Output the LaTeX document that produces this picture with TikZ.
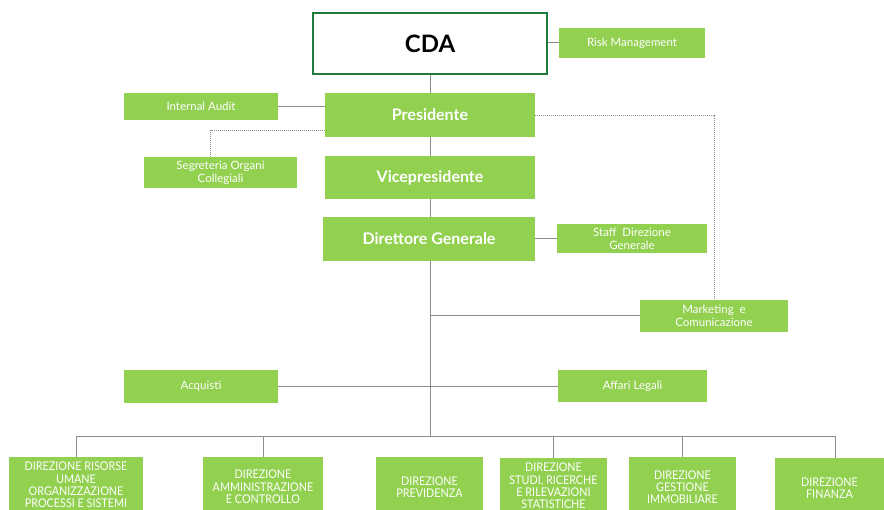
\documentclass[tikz,border=0pt]{standalone}
\usepackage{fontspec}
\setmainfont{Lato}
\newfontfamily\condfont{Lato}[FakeStretch=0.9]
\definecolor{gbox}{HTML}{92D050}
\definecolor{lgray}{HTML}{8C8C8C}
\definecolor{dgreen}{HTML}{1F7A3C}
\begin{document}
\begin{tikzpicture}[x=1pt,y=-1pt,
  box/.style={fill=gbox, text=white, inner sep=0pt, align=center, font=\fontsize{11.5}{13}\selectfont},
  mainbox/.style={box, font=\fontsize{16}{18}\selectfont\bfseries},
  dirbox/.style={box, minimum height=60pt, font=\condfont\fontsize{12}{12.3}\selectfont},
  conn/.style={draw=lgray, line width=1pt},
  dotline/.style={draw=lgray, line width=0.7pt, dash pattern=on 1pt off 1pt}]
\useasboundingbox (0,0) rectangle (884,510);
\clip (0,0) rectangle (884,510);
\fill[white] (0,0) rectangle (884,510);

\node[draw=dgreen, line width=2pt, fill=white, minimum width=234pt, minimum height=61pt,
  font=\fontsize{24}{26}\selectfont\bfseries] (cda) at (430,43.5) {CDA};
\node[box, minimum width=146pt, minimum height=30pt] (risk) at (632,43) {Risk Management};
\node[mainbox, minimum width=210pt, minimum height=44pt] (pres) at (430,115) {Presidente};
\node[box, minimum width=154pt, minimum height=27pt] (audit) at (201,106.5) {Internal Audit};
\node[box, minimum width=153pt, minimum height=31pt] (seg) at (220.5,172.5) {Segreteria Organi\\Collegiali};
\node[mainbox, minimum width=210pt, minimum height=43pt] (vice) at (430,177.5) {Vicepresidente};
\node[mainbox, minimum width=212pt, minimum height=44pt] (dg) at (429,239) {Direttore Generale};
\node[box, minimum width=150pt, minimum height=29pt] (staff) at (632,238.5) {Staff \ Direzione\\Generale};
\node[box, minimum width=148pt, minimum height=32pt] (mkt) at (714,316) {Marketing \ e\\Comunicazione};
\node[box, minimum width=154pt, minimum height=33pt] (acq) at (201,386.5) {Acquisti};
\node[box, minimum width=149pt, minimum height=32pt] (aff) at (632.5,386) {Affari Legali};

\node[dirbox, minimum width=134pt, minimum height=56pt] (d1) at (76,485) {DIREZIONE RISORSE\\UMANE\\ORGANIZZAZIONE\\PROCESSI E SISTEMI};
\node[dirbox, minimum width=120pt] (d2) at (263,487) {DIREZIONE\\AMMINISTRAZIONE\\E CONTROLLO};
\node[dirbox, minimum width=107pt] (d3) at (429.5,487) {DIREZIONE\\PREVIDENZA};
\node[dirbox, minimum width=107pt, minimum height=56pt] (d4) at (553.5,486) {DIREZIONE\\STUDI, RICERCHE\\E RILEVAZIONI\\STATISTICHE};
\node[dirbox, minimum width=107pt] (d5) at (682.5,487) {DIREZIONE\\GESTIONE\\IMMOBILIARE};
\node[dirbox, minimum width=109pt] (d6) at (829.5,488) {DIREZIONE\\FINANZA};

\coordinate (bus) at (430,436.5);

% solid connectors
\draw[conn] (risk.west) -- (risk.west -| cda.east);
\draw[conn] (cda.south) -- (pres.north);
\draw[conn] (audit.east) -- (audit.east -| pres.west);
\draw[conn] (pres.south) -- (vice.north);
\draw[conn] (vice.south) -- (vice.south |- dg.north);
\draw[conn] (staff.west) -- (staff.west -| dg.east);
\draw[conn] (vice.south |- dg.south) -- (vice.south |- bus);
\draw[conn] (mkt.west) -- (mkt.west -| vice.south);
\draw[conn] (acq.east) -- (acq.east -| aff.west);
\draw[conn] (d1.north |- bus) -- ([xshift=5.5pt]d6.north |- bus);
\draw[conn] (d1.north |- bus) -- (d1.north);
\draw[conn] (d2.north |- bus) -- (d2.north);
\draw[conn] (d4.north |- bus) -- (d4.north);
\draw[conn] (d5.north |- bus) -- (d5.north);
\draw[conn] ([xshift=5.5pt]d6.north |- bus) -- ([xshift=5.5pt]d6.north);

% dotted connectors
\draw[dotline] ([yshift=7pt]pres.south west) -| ([xshift=-10pt]seg.north);
\draw[dotline] (pres.east) -| (mkt.north);
\end{tikzpicture}
\end{document}
